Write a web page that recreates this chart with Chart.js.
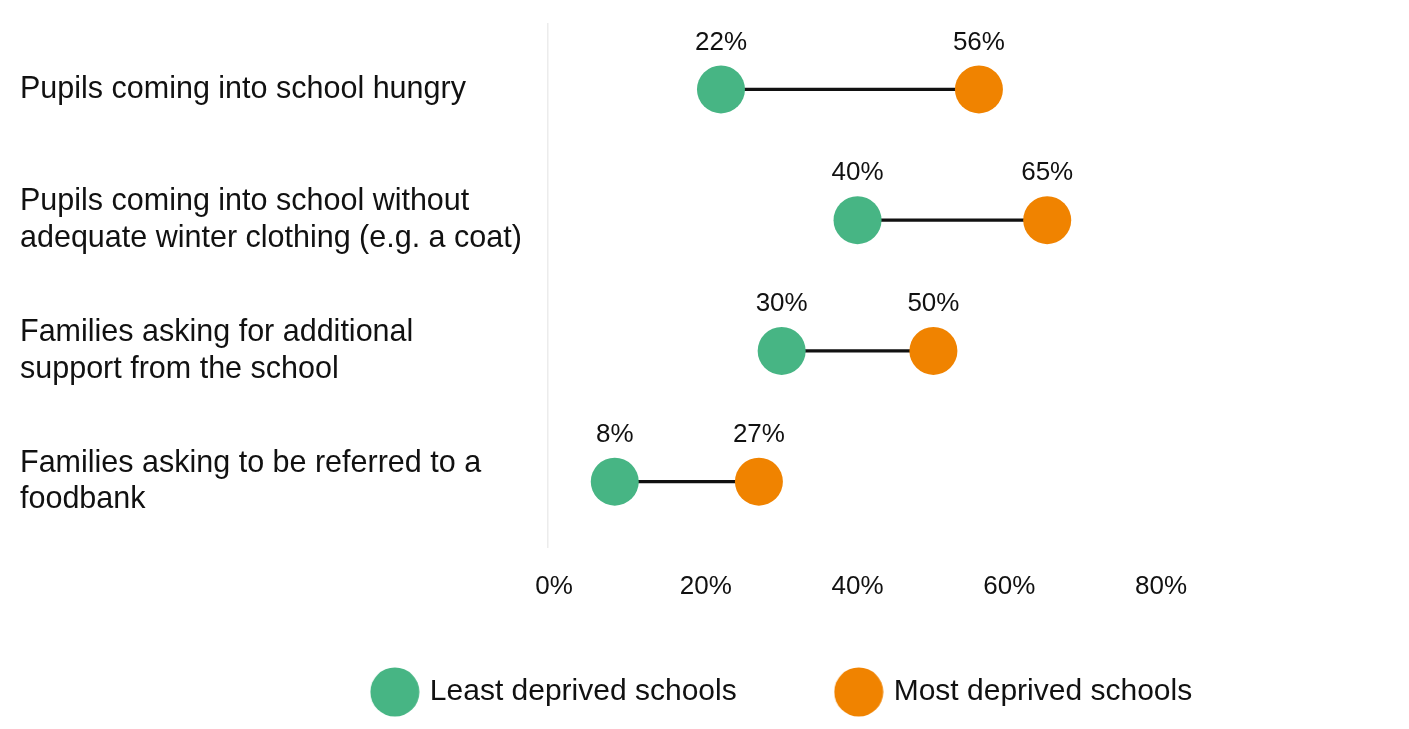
<!DOCTYPE html>
<html><head><meta charset="utf-8">
<script src="https://cdn.jsdelivr.net/npm/chart.js@4"></script>
<style>html,body{margin:0;padding:0;background:#fff;} #wrap{width:1409px;height:729px;position:relative;}</style>
</head><body><div id="wrap"><canvas id="c"></canvas></div>
<script>
const categories = [
  'Pupils coming into school hungry',
  ['Pupils coming into school without', 'adequate winter clothing (e.g. a coat)'],
  ['Families asking for additional', 'support from the school'],
  ['Families asking to be referred to a', 'foodbank']
];
const leastDeprived = [22, 40, 30, 8];
const mostDeprived = [56, 65, 50, 27];
const xTickValues = [0, 20, 40, 60, 80];
const seriesNames = ['Least deprived schools', 'Most deprived schools'];

const GREEN = '#47b584';
const ORANGE = '#f08300';
const FONT = "'Liberation Sans', Arial, sans-serif";
const TEXT = '#111111';

function dot(color) {
  const c = document.createElement('canvas');
  c.width = 50; c.height = 50;
  const g = c.getContext('2d');
  g.fillStyle = color;
  g.beginPath(); g.arc(25, 25, 24.5, 0, Math.PI * 2); g.fill();
  return c;
}
const dotImgs = [dot(GREEN), dot(ORANGE)];

const dotLabels = {
  id: 'dotLabels',
  afterDatasetsDraw(chart) {
    const ctx = chart.ctx;
    [1, 2].forEach(di => {
      const meta = chart.getDatasetMeta(di);
      const ds = chart.data.datasets[di];
      meta.data.forEach((pt, i) => {
        ctx.save();
        ctx.font = '26px ' + FONT;
        ctx.fillStyle = TEXT;
        ctx.textAlign = 'center';
        ctx.textBaseline = 'middle';
        ctx.fillText(ds.data[i] + '%', pt.x, pt.y - 47);
        ctx.restore();
      });
    });
  }
};

const legendShift = {
  id: 'legendShift',
  afterLayout(chart) {
    const l = chart.legend;
    if (!l) return;
    const dx = 193;
    l.left += dx; l.right += dx;
    l.top = 692 - 102 - 15;
    l.bottom = 729;
    l.height = l.bottom - l.top;
  }
};

new Chart(document.getElementById('c'), {
  data: {
    labels: categories,
    datasets: [
      {
        type: 'bar',
        label: 'range',
        indexAxis: 'y',
        data: leastDeprived.map((v, i) => [v, mostDeprived[i]]),
        backgroundColor: '#111111',
        barThickness: 2.5,
        order: 3
      },
      {
        type: 'line',
        label: seriesNames[0],
        indexAxis: 'y',
        data: leastDeprived,
        showLine: false,
        pointRadius: 24,
        pointHoverRadius: 24,
        pointBackgroundColor: GREEN,
        backgroundColor: GREEN,
        borderColor: GREEN,
        pointBorderWidth: 0,
        order: 1
      },
      {
        type: 'line',
        label: seriesNames[1],
        indexAxis: 'y',
        data: mostDeprived,
        showLine: false,
        pointRadius: 24,
        pointHoverRadius: 24,
        pointBackgroundColor: ORANGE,
        backgroundColor: ORANGE,
        borderColor: ORANGE,
        pointBorderWidth: 0,
        order: 1
      }
    ]
  },
  options: {
    indexAxis: 'y',
    responsive: true,
    maintainAspectRatio: false,
    animation: false,
    layout: { padding: { top: 21, left: 20, right: 248, bottom: 0 } },
    scales: {
      x: {
        type: 'linear',
        min: -0.8, max: 80,
        afterBuildTicks(scale) { scale.ticks = xTickValues.map(v => ({ value: v })); },
        afterFit(scale) { scale.height = 102; scale.paddingLeft = 0; scale.paddingRight = 0; },
        grid: { display: false, drawTicks: false },
        border: { display: false },
        ticks: {
          padding: 24,
          color: TEXT,
          font: { family: FONT, size: 26 },
          callback: v => v + '%'
        }
      },
      y: {
        type: 'category',
        offset: true,
        afterFit(scale) { scale.width = 528; scale.paddingTop = 0; scale.paddingBottom = 0; },
        grid: { display: false, drawTicks: false },
        border: { display: true, color: '#ececec', width: 1.5 },
        ticks: {
          crossAlign: 'far',
          color: TEXT,
          font: { family: FONT, size: 30.5, lineHeight: 1.21 }
        }
      }
    },
    plugins: {
      tooltip: { enabled: false },
      legend: {
        position: 'bottom',
        maxHeight: 80,
        labels: {
          usePointStyle: true,
          pointStyleWidth: 40,
          padding: 102,
          color: TEXT,
          font: { family: FONT, size: 30 },
          generateLabels(chart) {
            const items = Chart.defaults.plugins.legend.labels.generateLabels(chart);
            return items.filter(it => it.datasetIndex > 0).map(it => {
              it.pointStyle = dotImgs[it.datasetIndex - 1];
              return it;
            });
          }
        }
      }
    }
  },
  plugins: [dotLabels, legendShift]
});
</script>
</body></html>
